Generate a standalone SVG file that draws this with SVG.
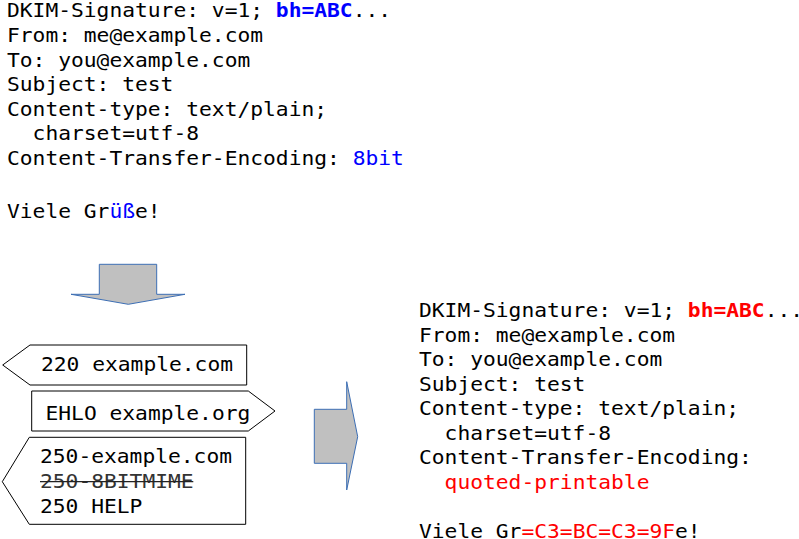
<svg xmlns="http://www.w3.org/2000/svg" width="799" height="539" viewBox="0 0 799 539">
<style>
text{font-family:"DejaVu Sans Mono","Liberation Mono",monospace;font-size:19px;fill:#000;white-space:pre}
.b{font-weight:bold}
.blue{fill:#0000ff}
.red{fill:#ff0000}
.box{fill:#fff;stroke:#000;stroke-width:1}
.arrow{fill:#c0c0c0;stroke:#3c6eb4;stroke-width:1}
.gray{fill:#333}
.strike{stroke:#222;stroke-width:1.2}
</style>
<g id="original-message">
<text transform="matrix(1.12 0 0 1 7 17.3)">DKIM-Signature: v=1; <tspan class="b blue">bh=ABC</tspan>...</text>
<text transform="matrix(1.12 0 0 1 7 41.9)">From: me@example.com</text>
<text transform="matrix(1.12 0 0 1 7 66.5)">To: you@example.com</text>
<text transform="matrix(1.12 0 0 1 7 91.1)">Subject: test</text>
<text transform="matrix(1.12 0 0 1 7 115.7)">Content-type: text/plain;</text>
<text transform="matrix(1.12 0 0 1 7 140.3)">  charset=utf-8</text>
<text transform="matrix(1.12 0 0 1 7 164.9)">Content-Transfer-Encoding: <tspan class="blue">8bit</tspan></text>
<text transform="matrix(1.12 0 0 1 7 218)">Viele Gr<tspan class="blue">üß</tspan>e!</text>
</g>
<g id="connectors">
<path id="arrow-down" class="arrow" d="M99.3,264.3 H156.7 V294.3 H185 L128.3,304.3 L71,294.3 H99.3 Z"/>
<path id="arrow-right" class="arrow" d="M314.3,409.3 H346.7 V381.7 L357.7,436.7 L346.7,490 V463.3 H314.3 Z"/>
</g>
<g id="msg-220">
<path class="box" d="M30,345 H246.7 V385 H30 L2.7,365 Z"/>
<text transform="matrix(1.12 0 0 1 41 370.7)">220 example.com</text>
</g>
<g id="msg-ehlo">
<path class="box" d="M31.7,391 H248.3 L275,411 L248.3,431 H31.7 Z"/>
<text transform="matrix(1.12 0 0 1 45.5 420)">EHLO example.org</text>
</g>
<g id="msg-250">
<path class="box" d="M29.3,437.3 H245.7 V524.3 H29.3 L2.3,481.7 Z"/>
<text transform="matrix(1.12 0 0 1 40 463.3)">250-example.com</text>
<text class="gray" transform="matrix(1.12 0 0 1 40 487.7)">250-8BITMIME</text>
<line class="strike" x1="40" y1="481.7" x2="193.3" y2="481.7"/>
<text transform="matrix(1.12 0 0 1 40 512.7)">250 HELP</text>
</g>
<g id="converted-message">
<text transform="matrix(1.12 0 0 1 419 317)">DKIM-Signature: v=1; <tspan class="b red">bh=ABC</tspan>...</text>
<text transform="matrix(1.12 0 0 1 419 341.5)">From: me@example.com</text>
<text transform="matrix(1.12 0 0 1 419 366)">To: you@example.com</text>
<text transform="matrix(1.12 0 0 1 419 390.5)">Subject: test</text>
<text transform="matrix(1.12 0 0 1 419 415)">Content-type: text/plain;</text>
<text transform="matrix(1.12 0 0 1 419 439.5)">  charset=utf-8</text>
<text transform="matrix(1.12 0 0 1 419 464)">Content-Transfer-Encoding:</text>
<text transform="matrix(1.12 0 0 1 419 488.5)">  <tspan class="red">quoted-printable</tspan></text>
<text transform="matrix(1.12 0 0 1 419 537.5)">Viele Gr<tspan class="red">=C3=BC=C3=9F</tspan>e!</text>
</g>
</svg>
